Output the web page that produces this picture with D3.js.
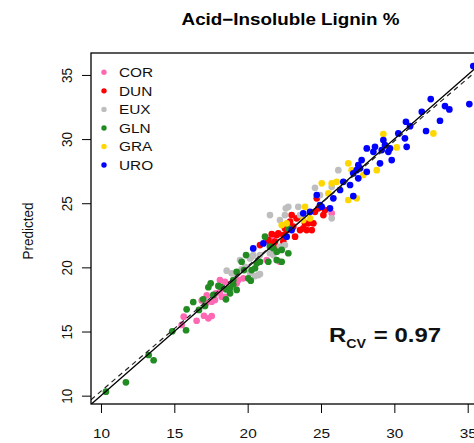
<!DOCTYPE html>
<html>
<head>
<meta charset="utf-8">
<script src="https://cdn.jsdelivr.net/npm/d3@7"></script>
<style>
  body { margin: 0; background: #fff; }
  svg { display: block; font-family: "Liberation Sans", Arial, sans-serif; }
</style>
</head>
<body>
<div id="chart"></div>
<script>
// Sites and their colours (legend order = drawing order)
const sites = ["COR", "DUN", "EUX", "GLN", "GRA", "URO"];
const siteColors = ["#ff69b4", "#ff0000", "#bebebe", "#228b22", "#ffd700", "#0000ff"];

const COR = [[15.64,16.16],[15.50,15.51],[16.52,15.84],[17.02,16.23],[17.32,16.03],[17.55,16.21],[17.16,17.20],[17.55,17.32],[17.77,17.46],[16.87,17.42],[17.84,17.98],[18.11,18.10],[18.23,17.71],[18.45,17.71],[18.11,19.01],[18.45,18.88],[18.80,18.70],[19.25,18.76],[19.36,19.01],[19.70,19.15],[21.30,20.57],[22.20,20.44],[21.75,22.52],[21.64,22.39],[25.73,24.21],[17.21,17.82]];
const DUN = [[24.71,25.38],[24.82,24.60],[25.27,24.47],[25.16,24.08],[24.59,24.33],[23.00,24.08],[23.34,23.82],[22.89,23.56],[23.11,23.17],[23.57,22.91],[23.79,23.04],[24.02,22.91],[24.13,23.43],[24.48,23.43],[24.37,22.91],[22.66,22.91],[22.09,22.65],[21.98,22.52],[21.64,22.60],[22.54,22.39],[23.23,22.39],[22.43,22.00],[21.86,22.00],[21.41,22.13],[20.84,21.74],[21.75,21.61],[22.09,21.36],[21.52,21.87],[23.57,23.95],[23.91,23.43],[22.43,22.52],[22.54,23.04]];
const EUX = [[18.57,19.74],[18.91,19.54],[19.25,19.48],[19.59,19.85],[20.16,19.58],[20.50,19.32],[19.48,20.57],[19.82,20.05],[20.27,20.83],[20.72,19.40],[21.52,21.10],[22.20,21.61],[21.52,24.08],[22.54,24.08],[22.77,24.72],[23.45,24.72],[22.60,24.60],[23.57,24.08],[25.73,23.82],[24.59,26.20],[25.73,26.28],[26.18,27.58],[22.54,21.74],[21.75,20.96],[20.84,20.96],[20.38,20.96],[22.20,23.69],[24.93,25.64],[20.84,19.48],[20.16,20.70]];
const GLN = [[10.34,10.31],[11.70,11.04],[13.25,13.17],[13.59,12.76],[14.86,15.02],[15.80,15.10],[15.84,16.73],[16.29,17.30],[16.68,16.68],[16.97,17.51],[17.48,18.76],[17.32,18.45],[17.66,17.85],[17.09,16.99],[18.00,18.55],[18.16,18.49],[18.52,18.29],[18.80,18.37],[19.02,18.68],[18.52,17.51],[18.80,17.98],[19.25,18.24],[19.25,19.66],[19.59,20.44],[19.89,20.96],[20.04,19.15],[20.27,19.79],[20.50,19.93],[20.62,20.32],[20.84,20.44],[21.18,22.39],[21.52,21.61],[21.75,21.49],[21.98,21.22],[22.32,21.36],[22.77,21.10],[21.98,20.57],[22.32,20.44],[20.72,20.44],[21.41,20.44],[22.77,23.04],[19.75,19.79],[20.21,18.96],[19.02,19.01]];
const GRA = [[25.05,26.55],[25.73,26.55],[23.91,24.72],[22.32,23.30],[24.25,23.82],[25.50,25.77],[29.25,30.39],[26.86,28.11],[27.09,27.58],[28.80,27.58],[26.07,26.67],[26.86,25.25],[27.43,25.38],[27.88,27.20],[22.66,23.43],[23.79,23.69],[32.66,30.44],[30.16,29.35]];
const URO = [[35.38,35.69],[35.11,32.73],[32.48,33.12],[33.45,32.57],[33.75,32.31],[33.11,31.43],[31.87,32.13],[32.16,30.63],[30.79,31.35],[31.07,31.01],[30.27,30.44],[29.25,29.92],[30.72,30.06],[30.84,29.40],[29.70,29.27],[29.14,29.14],[28.57,29.01],[29.82,28.36],[28.12,29.27],[28.68,29.40],[29.36,29.53],[29.59,29.01],[29.02,28.11],[27.54,27.98],[27.77,28.36],[27.66,27.72],[27.43,27.58],[28.12,27.45],[27.20,27.33],[27.54,26.94],[26.52,26.67],[26.98,26.42],[26.30,26.03],[27.20,25.56],[25.61,24.60],[24.71,25.64],[25.05,24.72],[23.79,24.21],[24.25,24.33],[23.00,22.91],[22.66,22.39],[21.07,21.87],[20.38,21.48],[25.84,25.38],[24.93,24.86]];
const siteData = [COR, DUN, EUX, GLN, GRA, URO];

const xTicks = [10, 15, 20, 25, 30, 35];
const yTicks = [10, 15, 20, 25, 30, 35];

// dashed line = fitted regression, solid = 1:1
const fitIntercept = 0.6;
const fitSlope = 0.975;
const rcv = "0.97";

// Layout
const width = 474;
const height = 443;
const plot = { left: 91, top: 53, right: 490, bottom: 404 };
const stretch = 1.14; // the source picture is a bit wider than tall

const svg = d3.select("#chart")
  .append("svg")
  .attr("width", width)
  .attr("height", height);

const x = d3.scaleLinear().domain([9.32, 36.52]).range([plot.left, plot.right]);
const y = d3.scaleLinear().domain([9.35, 36.71]).range([plot.bottom, plot.top]);

svg.append("clipPath")
  .attr("id", "clip")
  .append("rect")
  .attr("x", plot.left)
  .attr("y", plot.top)
  .attr("width", plot.right - plot.left)
  .attr("height", plot.bottom - plot.top);

// Title
svg.append("text")
  .attr("transform", `translate(${(plot.left + plot.right) / 2},25) scale(${stretch},1)`)
  .attr("text-anchor", "middle")
  .style("font-size", "16.5px")
  .style("font-weight", "bold")
  .text("Acid\u2212Insoluble Lignin %");

// Axes
const xAxis = svg.append("g")
  .attr("transform", `translate(0,${plot.bottom})`)
  .call(d3.axisBottom(x).tickValues(xTicks).tickSize(9).tickFormat(d3.format("d")));
xAxis.select(".domain").remove();
xAxis.selectAll(".tick line").attr("stroke", "#000");
xAxis.selectAll(".tick text")
  .attr("y", 34)
  .attr("dy", null)
  .attr("fill", "#111")
  .attr("transform", `scale(${stretch},1)`)
  .style("font-size", "13.5px")
  .style("font-family", "'Liberation Sans', Arial, sans-serif");

const yAxis = svg.append("g")
  .attr("transform", `translate(${plot.left},0)`)
  .call(d3.axisLeft(y).tickValues(yTicks).tickSize(9).tickFormat(d3.format("d")));
yAxis.select(".domain").remove();
yAxis.selectAll(".tick line").attr("stroke", "#000");
yAxis.selectAll(".tick text")
  .attr("x", null)
  .attr("dy", null)
  .attr("fill", "#111")
  .attr("text-anchor", "middle")
  .attr("transform", `translate(-19.5,0) scale(${stretch},1) rotate(-90)`)
  .style("font-size", "13.5px")
  .style("font-family", "'Liberation Sans', Arial, sans-serif");

// Axis title
svg.append("text")
  .attr("transform", `translate(33,231) scale(${stretch},1) rotate(-90)`)
  .attr("text-anchor", "middle")
  .attr("fill", "#111")
  .style("font-size", "13.5px")
  .text("Predicted");

// Points
const pts = svg.append("g").attr("clip-path", "url(#clip)");
siteData.forEach((rows, i) => {
  pts.selectAll(null)
    .data(rows)
    .join("circle")
    .attr("cx", d => x(d[0]))
    .attr("cy", d => y(d[1]))
    .attr("r", 3.35)
    .attr("fill", siteColors[i]);
});

// Reference lines
const lines = svg.append("g").attr("clip-path", "url(#clip)");
const [x0, x1] = x.domain();
lines.append("line")
  .attr("x1", x(x0)).attr("y1", y(x0))
  .attr("x2", x(x1)).attr("y2", y(x1))
  .attr("stroke", "#000")
  .attr("stroke-width", 1.3);
lines.append("line")
  .attr("x1", x(x0)).attr("y1", y(fitIntercept + fitSlope * x0))
  .attr("x2", x(x1)).attr("y2", y(fitIntercept + fitSlope * x1))
  .attr("stroke", "#222")
  .attr("stroke-width", 1.2)
  .attr("stroke-dasharray", "5,4");

// Box
svg.append("rect")
  .attr("x", plot.left)
  .attr("y", plot.top)
  .attr("width", plot.right - plot.left)
  .attr("height", plot.bottom - plot.top)
  .attr("fill", "none")
  .attr("stroke", "#000")
  .attr("stroke-width", 1.3);

// Legend
const legend = svg.append("g");
const legendItems = legend.selectAll("g")
  .data(sites)
  .join("g")
  .attr("transform", (d, i) => `translate(104,${72.3 + i * 18.55})`);
legendItems.append("circle")
  .attr("r", 2.7)
  .attr("fill", (d, i) => siteColors[i]);
legendItems.append("text")
  .attr("transform", `translate(15,0) scale(${stretch},1)`)
  .attr("dy", "0.36em")
  .attr("fill", "#111")
  .style("font-size", "13.5px")
  .text(d => d);

// R_CV annotation
const rLabel = svg.append("text")
  .attr("transform", `translate(329,341.7) scale(${stretch},1)`)
  .attr("fill", "#111")
  .style("font-weight", "bold")
  .style("font-size", "21px");
rLabel.append("tspan").text("R");
rLabel.append("tspan").attr("dy", 6).style("font-size", "12.5px").text("CV");
rLabel.append("tspan").attr("dy", -6).attr("dx", 1).text(" = " + rcv);
</script>
</body>
</html>
